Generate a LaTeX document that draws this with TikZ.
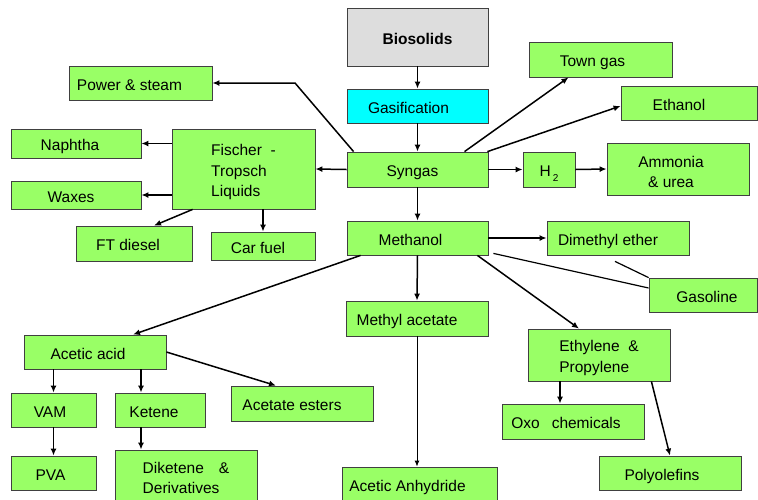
\documentclass[tikz,border=0pt]{standalone}
\usepackage{fontspec}
\setmainfont{Liberation Sans}
\usetikzlibrary{arrows.meta, positioning, calc}
\definecolor{bGreen}{HTML}{99FF66}
\definecolor{bCyan} {HTML}{00FFFF}
\definecolor{bGray} {HTML}{DDDDDD}

\tikzset{
  box/.style={draw=black!75, line width=0.8pt, fill=bGreen, inner sep=0pt,
              text height=14pt, text depth=0pt},
  multi/.style={text height={}, text depth={}},
  sz/.style 2 args={minimum width=#1pt, minimum height=#2pt},
  arr/.style={-{Latex[length=7pt,width=6pt]}, line width=1.5pt},
  link/.style={line width=1.2pt},
}

\begin{document}
\begin{tikzpicture}[x=1pt, y=-1pt, font=\fontsize{15.5}{20.5}\selectfont]
    \clip (0,0) rectangle (758,499);

    % Main column
    \node[box, fill=bGray, sz={141}{58}] (bio)  at (417.5,37)  {\textbf{Biosolids}};
    \node[box, fill=bCyan, sz={141}{34}] (gas)  at (417.5,106) {Gasification\hspace*{18pt}};
    \node[box, sz={141}{35}]             (syn)  at (417.5,169.5) {Syngas\hspace*{10pt}};
    \node[box, sz={141}{34}]             (meth) at (417.5,238) {Methanol\hspace*{14pt}};

    % Syngas products
    \node[box, sz={143}{34}] (power) at (140.5,83)  {Power \& steam\hspace*{22pt}};
    \node[box, multi, sz={143}{80}, align=left] (ft) at (243.5,169)
      {\rule{0pt}{17.5pt}Fischer\ \ -\\Tropsch\\Liquids};
    \node[box, sz={130}{29}] (naph)  at (76,143.5)  {Naphtha\hspace*{12pt}};
    \node[box, sz={130}{28}] (wax)   at (76,195)    {Waxes\hspace*{10pt}};
    \node[box, sz={116}{35}] (ftd)   at (134,243.5) {FT diesel\hspace*{12pt}};
    \node[box, sz={104}{28}] (car)   at (263,246)   {Car fuel\hspace*{10pt}};
    \node[box, sz={143}{35}] (town)  at (600.5,59.5) {Town gas\hspace*{16pt}};
    \node[box, sz={136}{34}] (eth)   at (689,103)   {Ethanol\hspace*{20pt}};
    \node[box, sz={52}{35}]  (h2)    at (549,169.5) {H\kern2pt\raisebox{-5pt}{\fontsize{10}{10}\selectfont 2}};
    \node[box, multi, sz={142}{52}, align=center] (amm) at (678,169)
      {\rule{0pt}{17.5pt}Ammonia\hspace*{14pt}\\\& urea\hspace*{14pt}};

    % Methanol products
    \node[box, sz={142}{34}] (dme)   at (618,238)   {Dimethyl ether\hspace*{20pt}};
    \node[box, sz={108}{34}] (gasl)  at (703,295)   {\hspace*{8pt}Gasoline};
    \node[box, sz={142}{35}] (macet) at (417,318.5) {Methyl acetate\hspace*{20pt}};
    \node[box, sz={155}{34}] (anh)   at (419.5,484) {Acetic Anhydride\hspace*{24pt}};
    \node[box, multi, sz={142}{52}, align=left] (ethy) at (599,355)
      {\rule{0pt}{17.5pt}Ethylene\ \ \&\\Propylene};
    \node[box, sz={142}{35}] (oxo)   at (573,421.5) {Oxo\hspace{12pt}chemicals\hspace*{14pt}};
    \node[box, sz={142}{34}] (poly)  at (670,473)   {Polyolefins\hspace*{16pt}};

    % Acetic acid branch
    \node[box, sz={142}{34}] (aacid) at (95,352)    {Acetic acid\hspace*{14pt}};
    \node[box, sz={85}{34}]  (vam)   at (53.5,410)  {VAM\hspace*{7pt}};
    \node[box, sz={90}{34}]  (ket)   at (160,410)   {Ketene\hspace*{12pt}};
    \node[box, sz={142}{35}] (aest)  at (302,403.5) {Acetate esters\hspace*{20pt}};
    \node[box, sz={85}{34}]  (pva)   at (53.5,473)  {PVA\hspace*{6pt}};
    \node[box, multi, sz={142}{56}, align=left] (dik) at (186,478)
      {Diketene\hspace{15pt}\&\\Derivatives};

    % Connectors
    \coordinate (psbend) at (295,83);
    \draw[arr] (bio) -- (gas);
    \draw[arr] (gas) -- (syn);
    \draw[arr] (syn) -- (meth);
    \draw[arr] (syn.west) -- (ft.east);
    \draw[arr] ([xshift=7pt]syn.north west) -- (psbend) -- (power.east);
    \draw[arr] ([xshift=47pt]syn.north) -- ([xshift=-32pt]town.south);
    \draw[arr] ([xshift=-1pt]syn.north east) -- ([yshift=-3pt]eth.west);
    \draw[arr] (syn.east) -- (h2.west);
    \draw[arr] (h2.east) -- (amm.west);

    \draw[arr] (ft.west |- naph.east) -- (naph.east);
    \draw[arr] (ft.west |- wax.east) -- (wax.east);
    \draw[arr] ([xshift=21pt]ft.south west) -- ([xshift=20pt]ftd.north);
    \draw[arr] (ft.south -| car.north) -- (car.north);

    \draw[arr] (meth.east) -- (dme.west);
    \draw[arr] ([xshift=14pt]meth.south west) -- ([xshift=38pt]aacid.north);
    \draw[arr] (meth.south) -- (macet.north);
    \draw[arr] ([xshift=-11pt]meth.south east) -- ([xshift=-20pt]ethy.north);
    \draw[link] ([xshift=5pt,yshift=2pt]meth.south east) -- ([yshift=7pt]gasl.west);
    \draw[link] ([xshift=-3pt,yshift=-6pt]dme.south) -- (gasl.north west);
    \draw[-{Latex[length=6pt,width=5pt]}, line width=1pt] (macet.south) -- (macet.south |- anh.north);

    \draw[arr] ([xshift=-39pt]ethy.south) -- ([xshift=-39pt]ethy.south |- oxo.north);
    \draw[arr] ([xshift=-19pt]ethy.south east) -- (poly.north);

    \draw[arr] (vam.north |- aacid.south) -- (vam.north);
    \draw[arr] ([xshift=-19pt]ket.north |- aacid.south) -- ([xshift=-19pt]ket.north);
    \draw[arr] (aacid.east) -- ([xshift=-26pt]aest.north);
    \draw[arr] (vam) -- (pva);
    \draw[arr] ([xshift=-19pt]ket.south) -- ([xshift=-19pt]ket.south |- dik.north);
\end{tikzpicture}
\end{document}
